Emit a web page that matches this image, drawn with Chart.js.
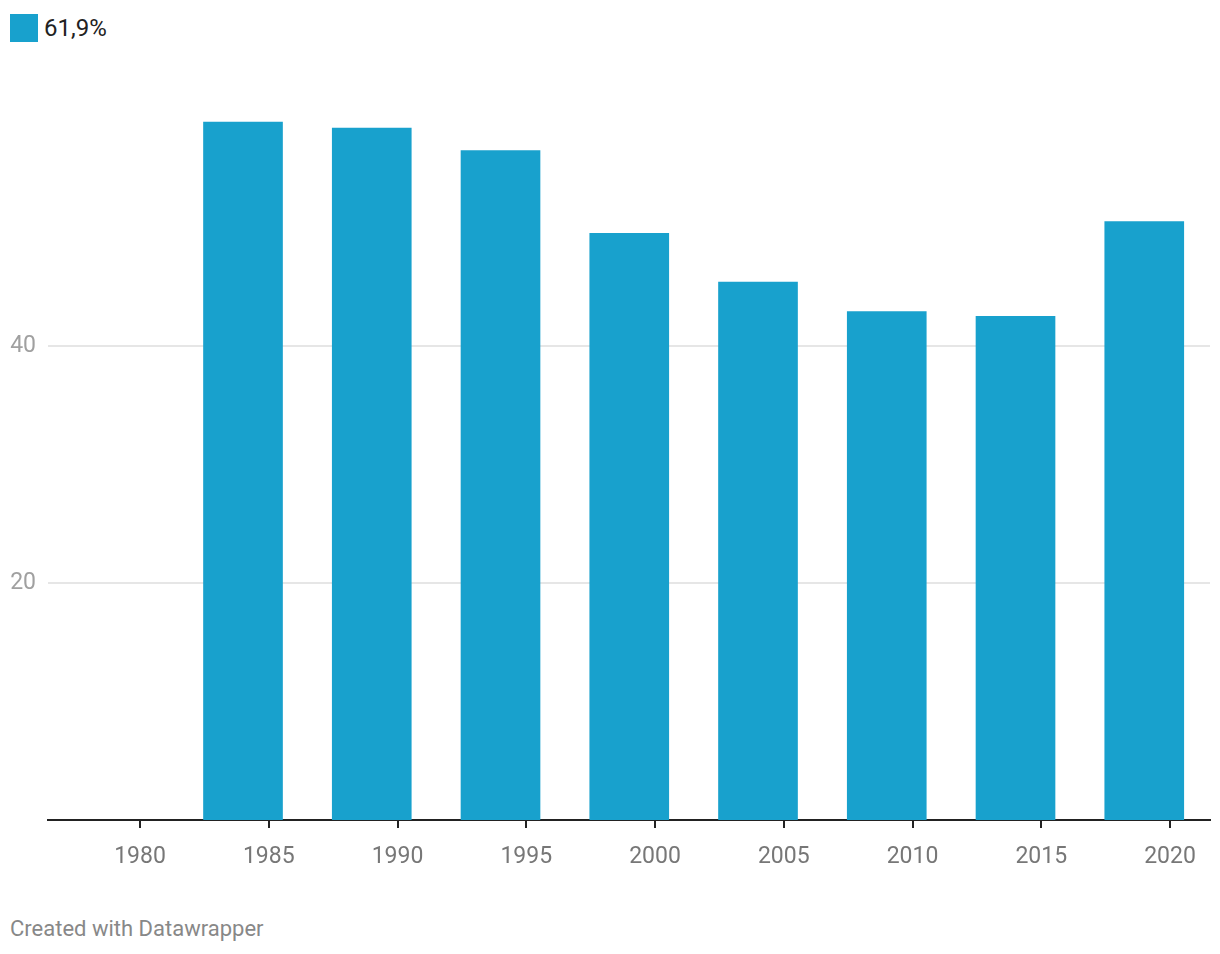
<!DOCTYPE html>
<html>
<head>
<meta charset="utf-8">
<script src="https://cdn.jsdelivr.net/npm/chart.js@4"></script>
<style>
  body { margin: 0; background: #fff; font-family: Roboto, sans-serif; }
  #wrap { position: absolute; left: 0; top: 0; width: 1220px; height: 900px; }
  #legend { position: absolute; left: 10px; top: 14px; height: 28px; display: flex; align-items: center; font-size: 24px; color: #222; }
  #legend .box { width: 28px; height: 28px; margin-right: 6px; }
  #footer { position: absolute; left: 10px; top: 916px; font-size: 22px; color: #888; }
</style>
</head>
<body>
<div id="legend"><div class="box"></div><span id="legendText"></span></div>
<div id="wrap"><canvas id="chart"></canvas></div>
<div id="footer">Created with Datawrapper</div>
<script>
// tick labels on the time axis
const tickYears = [1980, 1985, 1990, 1995, 2000, 2005, 2010, 2015, 2020];
// bars sit one year before each labelled tick
const barYears = [1984, 1989, 1994, 1999, 2004, 2009, 2014, 2019];
const values = [58.9, 58.4, 56.5, 49.5, 45.4, 42.9, 42.5, 50.5];
const yTicks = [20, 40];
const seriesLabel = "61,9%";
const barColor = "#18a1cd";

document.getElementById("legendText").innerText = seriesLabel;
document.querySelector("#legend .box").style.background = barColor;

const ctx = document.getElementById("chart").getContext("2d");
new Chart(ctx, {
  type: "bar",
  data: {
    datasets: [
      {
        label: seriesLabel,
        data: barYears.map((y, i) => ({ x: y, y: values[i] })),
        backgroundColor: barColor,
        barThickness: 79,
      },
    ],
  },
  options: {
    responsive: true,
    maintainAspectRatio: false,
    animation: false,
    layout: { padding: { top: 109, left: 10, right: 10, bottom: 0 } },
    plugins: { legend: { display: false }, tooltip: { enabled: false } },
    scales: {
      x: {
        type: "linear",
        offset: false,
        min: 1976.427,
        max: 2021.553,
        afterBuildTicks: (axis) => {
          axis.ticks = tickYears.map((v) => ({ value: v }));
        },
        afterFit: (axis) => {
          axis.height = 80;
        },
        border: { display: true, color: "#222", width: 2 },
        grid: {
          offset: false,
          drawOnChartArea: false,
          drawTicks: true,
          tickLength: 8,
          tickColor: "#222",
          lineWidth: 2,
        },
        ticks: {
          color: "#777",
          padding: 15,
          maxRotation: 0,
          font: { family: "Roboto", size: 23 },
          callback: (v) => String(v),
        },
      },
      y: {
        min: 0,
        max: 60,
        afterBuildTicks: (axis) => {
          axis.ticks = yTicks.map((v) => ({ value: v }));
        },
        afterFit: (axis) => {
          axis.width = 38;
        },
        border: { display: false },
        grid: { color: "#e6e6e6", lineWidth: 2, drawTicks: false },
        ticks: {
          color: "#a0a0a0",
          padding: 12,
          font: { family: "Roboto", size: 23 },
        },
      },
    },
  },
});
</script>
</body>
</html>
